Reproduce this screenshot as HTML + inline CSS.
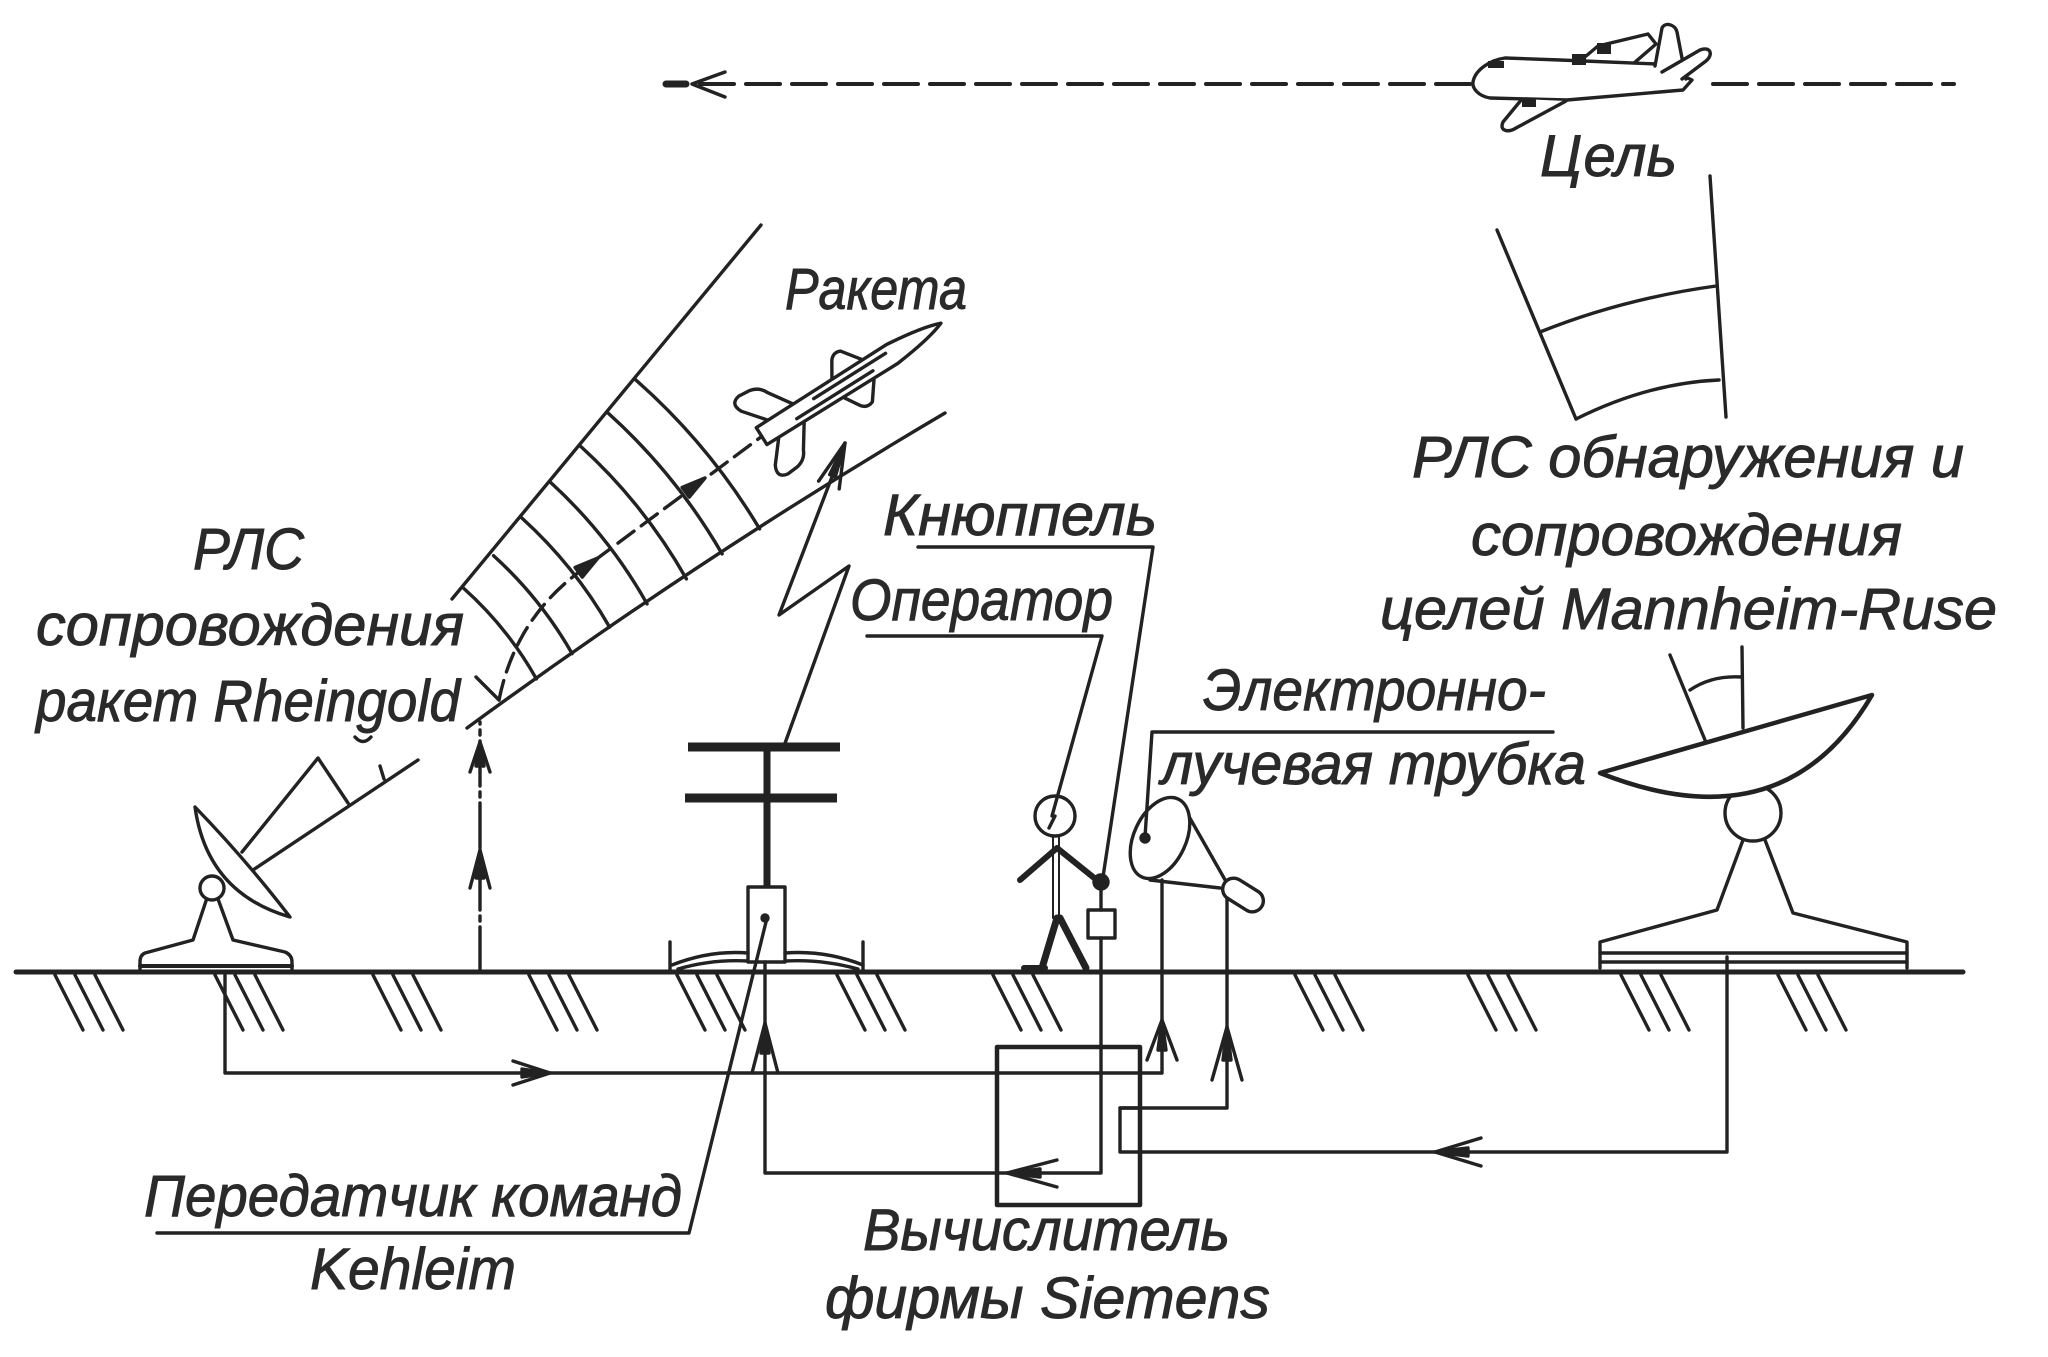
<!DOCTYPE html>
<html><head><meta charset="utf-8">
<style>html,body{margin:0;padding:0;background:#fff}svg{display:block}</style>
</head><body>
<svg width="2048" height="1357" viewBox="0 0 2048 1357" xmlns="http://www.w3.org/2000/svg">
<rect width="2048" height="1357" fill="#fff"/>
<g fill="none" stroke="#222" stroke-width="3.4" stroke-linecap="round" stroke-linejoin="round">
  <!-- ground -->
  <path d="M16,972 L1963,972" stroke-width="5"/>
  <!-- hatches -->
  <path d="M55,975L83,1030M75,975L103,1030M95,975L123,1030
  M215,975L243,1030M235,975L263,1030M255,975L283,1030
  M373,975L401,1030M393,975L421,1030M413,975L441,1030
  M529,975L557,1030M549,975L577,1030M569,975L597,1030
  M677,975L705,1030M697,975L725,1030M717,975L745,1030
  M837,975L865,1030M857,975L885,1030M877,975L905,1030
  M993,975L1021,1030M1013,975L1041,1030M1033,975L1061,1030
  M1295,975L1323,1030M1315,975L1343,1030M1335,975L1363,1030
  M1468,975L1496,1030M1488,975L1516,1030M1508,975L1536,1030
  M1621,975L1649,1030M1641,975L1669,1030M1661,975L1689,1030
  M1778,975L1806,1030M1798,975L1826,1030M1818,975L1846,1030"/>

  <!-- top dashed target path -->
  <path d="M700,84 L1470,84 M1713,84 L1954,84" stroke-dasharray="34 12" stroke-width="4"/>
  <path d="M666,84 L686,84" stroke-width="7"/>
  <path d="M725,72 L692,84 L725,97"/>

  <!-- plane -->
  <g fill="#fff">
    <path d="M1555,82 L1598,46 L1648,34 L1656,44 L1612,82 Z"/>
    <path d="M1473,82 C1475,70 1490,60 1505,58 L1560,60 L1657,64 L1692,80 L1683,90 L1567,100 L1490,98 C1478,96 1472,88 1473,82 Z"/>
    <path d="M1655,66 L1662,28 C1665,22 1675,24 1677,32 L1686,79"/>
    <path d="M1662,72 L1700,50 C1710,46 1714,54 1706,61 L1682,79"/>
    <path d="M1522,99 L1503,122 C1499,131 1508,133 1516,128 L1566,101"/>
  </g>
  <g fill="#222" stroke="none">
    <rect x="1572" y="54" width="14" height="11"/>
    <rect x="1597" y="43" width="14" height="11"/>
    <rect x="1522" y="99" width="14" height="8"/>
    <rect x="1488" y="61" width="16" height="7"/>
  </g>

  <!-- target radar beam (top right) -->
  <path d="M1497,230 L1576,419 M1710,176 L1726,417"/>
  <path d="M1540,332 Q1622,299 1716,286 M1576,419 Q1648,383 1719,380"/>

  <!-- missile beam -->
  <path d="M761,225 L452,599"/>
  <path d="M945,413 Q699,558 467,728"/>
  <path d="M634.6,378.9 A626,626 0 0 1 759.6,528.9"/>
  <path d="M607.9,412.9 A582,582 0 0 1 722.1,553.9"/>
  <path d="M581.1,446.8 A538,538 0 0 1 686.4,578.9"/>
  <path d="M550.7,482.5 A492,492 0 0 1 647.1,603.9"/>
  <path d="M522.1,518.2 A447,447 0 0 1 609.6,627.1"/>
  <path d="M493.6,555.7 A400,400 0 0 1 572.1,653.6"/>
  <path d="M463.2,587.9 A356,356 0 0 1 536.4,678.9"/>
  <path d="M499,700 Q515,620 579,572 L765,434" stroke-dasharray="20 9"/>
  <path d="M476,677 L499,700"/>
  <polygon points="598,558 575.1,567.5 582.3,577.1" fill="#222"/>
  <polygon points="705,478 682.1,487.5 689.3,497.1" fill="#222"/>

  <!-- missile -->
  <g transform="translate(765,434) rotate(-32.2)" fill="#fff">
    <path d="M10,-10 L-8,-32 Q-14,-44 -2,-46 L10,-45 Q20,-43 24,-34 L40,-10"/>
    <path d="M10,10 L-8,32 Q-14,44 -2,46 L10,45 Q20,43 24,34 L40,10"/>
    <path d="M86,-11 L96,-27 Q101,-33 108,-30 L122,-11"/>
    <path d="M86,11 L96,27 Q101,33 108,30 L122,11"/>
    <path d="M-4,-10 L150,-11 Q190,-7 208,0 Q190,7 150,11 L-4,10 Z"/>
    <path d="M60,-4 L145,-4 M35,4 L125,4" fill="none"/>
  </g>

  <!-- vertical dash-dot launch line -->
  <path d="M480,972 L480,722" stroke-dasharray="45 6 5 6"/>
  <path d="M470,888 L480,850 L490,888 M470,772 L480,742 L490,772"/>
  <polygon points="480,850 476,878 484,878" fill="#222"/>
  <polygon points="480,742 476,766 484,766" fill="#222"/>

  <!-- Rheingold radar -->
  <path d="M242,852 L318,758 L348,803 M253,870 L418,760 M380,766 L384,779 M355,737 Q363,746 371,737"/>
  <path d="M207,898 L193,940 L145,953 Q140,955 140,962 L140,972 M218,899 L233,940 L285,952 Q292,955 292,962 L292,972"/>
  <path d="M140,966 L292,966" stroke-width="4"/>
  <circle cx="212" cy="888" r="12" fill="#fff"/>
  <path d="M195,807 Q245.5,859 290,917 Q207,893 195,807 Z" fill="#fff"/>

  <!-- feedback line from Rheingold radar -->
  <path d="M225,975 L225,1073 L1162,1073 L1162,880"/>
  <path d="M513,1061 L550,1073 L513,1085"/>
  <polygon points="550,1073 522,1069 522,1077" fill="#222"/>

  <!-- command transmitter antenna -->
  <path d="M688,747 L840,747 M685,798 L837,798" stroke-width="9" stroke-linecap="butt"/>
  <path d="M767,747 L767,887" stroke-width="7"/>
  <rect x="748" y="887" width="37" height="75" fill="#fff"/>
  <path d="M672,965 Q710,950 748,953 M785,953 Q825,950 863,965 M678,969 Q712,959 748,961 M785,961 Q822,959 858,969"/>
  <path d="M670,942 L670,972 M863,942 L863,972"/>
  <circle cx="765" cy="918" r="3" fill="#222"/>
  <!-- radio link lightning -->
  <path d="M784,746 L849,566 L779,615 L845,443"/>
  <path d="M818.6,481.1 L845,443 L839.2,488.9"/>
  <polygon points="845,443 829.7,474.6 835.3,476.8" fill="#222"/>

  <!-- operator -->
  <circle cx="1055" cy="816" r="20" fill="#fff"/>
  <path d="M1055,816 L1049,828"/>
  <path d="M1053,836 L1053,918 M1059,836 L1059,918" stroke-width="2"/>
  <path d="M1057,848 L1020,880 M1057,848 L1098,881" stroke-width="6"/>
  <path d="M1057,918 L1042,968 M1060,918 L1086,968" stroke-width="7"/>
  <path d="M1024,968 L1045,968" stroke-width="6"/>
  <circle cx="1101" cy="882" r="7" fill="#222"/>
  <rect x="1088" y="910" width="27" height="28" fill="#fff"/>
  <path d="M1101,889 L1101,910 M1101,938 L1101,1173 L765,1173 L765,962"/>
  <path d="M1057,1160 L1007,1173 L1057,1187"/>
  <polygon points="1007,1173 1040,1169 1040,1177" fill="#222"/>
  <path d="M752,1073 L765,1023 L778,1073"/>
  <polygon points="765,1023 761,1053 769,1053" fill="#222"/>

  <!-- CRT -->
  <path d="M1183,806 L1228,885 M1150,880 L1220,888"/>
  <ellipse cx="1160" cy="838" rx="26" ry="43" transform="rotate(25 1160 838)" fill="#fff"/>
  <circle cx="1145" cy="838" r="4" fill="#222"/>
  <rect x="-22" y="-11" width="44" height="22" rx="11" transform="translate(1243,895) rotate(32)" fill="#fff"/>
  <path d="M1120,1108 L1227,1108 L1227,898"/>
  <path d="M1147,1060 L1162,1020 L1177,1060"/>
  <polygon points="1162,1020 1158,1050 1166,1050" fill="#222"/>
  <path d="M1212,1080 L1227,1027 L1242,1080"/>
  <polygon points="1227,1027 1223,1060 1231,1060" fill="#222"/>

  <!-- computer -->
  <rect x="997" y="1047" width="143" height="158" stroke-width="4.5"/>
  <rect x="1120" y="1108" width="20" height="44"/>

  <!-- Mannheim radar -->
  <path d="M1670,655 L1705,740 M1742,647 L1743,728 M1690,690 Q1712,675 1742,677"/>
  <path d="M1743,840 L1717,910 L1600,942 L1600,968 M1765,840 L1793,913 L1907,942 L1907,968"/>
  <path d="M1600,953 L1907,953 M1600,962 L1907,962"/>
  <circle cx="1753" cy="813" r="28" fill="#fff"/>
  <path d="M1600,773 L1872,695 Q1784,846 1600,773 Z" fill="#fff" stroke-width="4.5"/>
  <path d="M1727,957 L1727,1152 L1140,1152"/>
  <path d="M1481,1138 L1435,1152 L1481,1166"/>
  <polygon points="1435,1152 1468,1148 1468,1156" fill="#222"/>

  <!-- label leaders / underlines -->
  <path d="M918,547 L1153,547 L1103,877"/>
  <path d="M867,636 L1102,636 L1052,816"/>
  <path d="M1553,732 L1152,732 L1145,837"/>
  <path d="M157,1233 L689,1233 L767,918"/>
</g>

<g font-family="'Liberation Sans', 'Noto Sans CJK SC', sans-serif" font-style="italic" font-size="58" fill="#2a2a2a" stroke="#2a2a2a" stroke-width="0.9">
  <text x="1540" y="176" textLength="137" lengthAdjust="spacingAndGlyphs">Цель</text>
  <text x="785" y="309" textLength="182" lengthAdjust="spacingAndGlyphs">Ракета</text>
  <text x="1412" y="477" textLength="552" lengthAdjust="spacingAndGlyphs">РЛС обнаружения и</text>
  <text x="1471" y="555" textLength="431" lengthAdjust="spacingAndGlyphs">сопровождения</text>
  <text x="1380" y="629" textLength="617" lengthAdjust="spacingAndGlyphs">целей Mannheim-Ruse</text>
  <text x="193" y="569" textLength="111" lengthAdjust="spacingAndGlyphs">РЛС</text>
  <text x="36" y="645" textLength="428" lengthAdjust="spacingAndGlyphs">сопровождения</text>
  <text x="36" y="721" textLength="424" lengthAdjust="spacingAndGlyphs">ракет Rheingold</text>
  <text x="883" y="535" textLength="274" lengthAdjust="spacingAndGlyphs">Кнюппель</text>
  <text x="850" y="620" textLength="263" lengthAdjust="spacingAndGlyphs">Оператор</text>
  <text x="1203" y="710" textLength="343" lengthAdjust="spacingAndGlyphs">Электронно-</text>
  <text x="1161" y="784" textLength="425" lengthAdjust="spacingAndGlyphs">лучевая трубка</text>
  <text x="144" y="1216" textLength="538" lengthAdjust="spacingAndGlyphs">Передатчик команд</text>
  <text x="310" y="1289" textLength="206" lengthAdjust="spacingAndGlyphs">Kehleim</text>
  <text x="863" y="1250" textLength="367" lengthAdjust="spacingAndGlyphs">Вычислитель</text>
  <text x="825" y="1318" textLength="445" lengthAdjust="spacingAndGlyphs">фирмы Siemens</text>
</g>
</svg>
</body></html>
